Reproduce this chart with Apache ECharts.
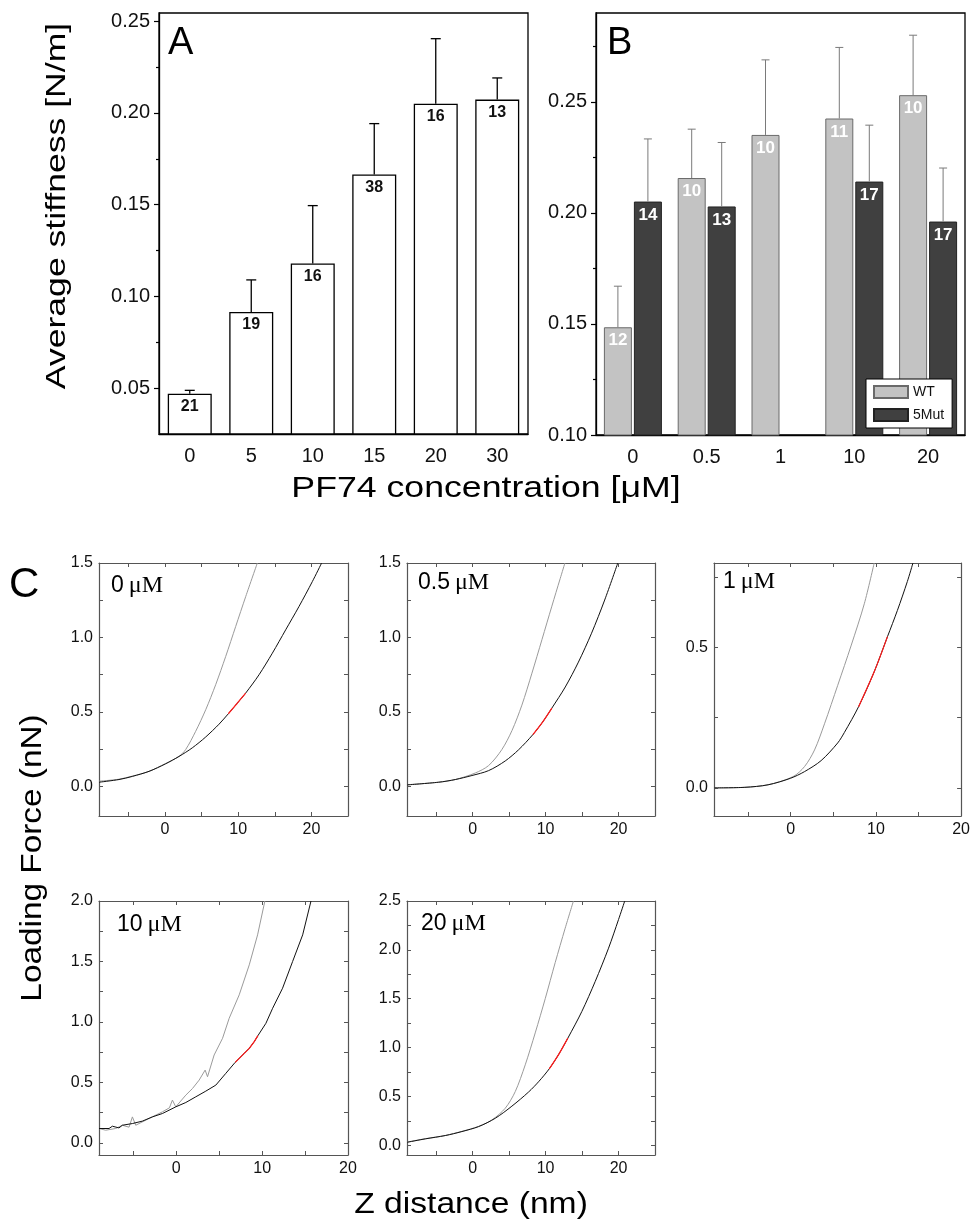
<!DOCTYPE html>
<html><head><meta charset="utf-8">
<script src="https://cdn.jsdelivr.net/npm/echarts@6/dist/echarts.min.js"></script>
<style>html,body{margin:0;padding:0;background:#fff}#c{width:973px;height:1227px}</style>
</head><body><div id="c"></div>
<script>
// ---------------- Panel A data ----------------
const catsA = ['0', '5', '10', '15', '20', '30'];
const meanA = [0.047, 0.0915, 0.118, 0.1665, 0.205, 0.2073];
const errA  = [0.0018, 0.0175, 0.0315, 0.0277, 0.0355, 0.0118];
const nA    = [21, 19, 16, 38, 16, 13];
const yLabelsA = [0.05, 0.10, 0.15, 0.20, 0.25];
const yMinorA  = [0.075, 0.125, 0.175, 0.225];

// ---------------- Panel B data ----------------
const catsB = ['0', '0.5', '1', '10', '20'];
const wtMean  = [0.1485, 0.2157, 0.2351, 0.2425, 0.253];
const wtErr   = [0.0185, 0.022, 0.0338, 0.032, 0.027];
const wtN     = [12, 10, 10, 11, 10];
const mutMean = [0.2051, 0.2029, null, 0.2141, 0.1961];
const mutErr  = [0.0282, 0.0288, null, 0.0254, 0.0241];
const mutN    = [14, 13, null, 17, 17];
const yLabelsB = [0.10, 0.15, 0.20, 0.25];
const yMinorB  = [0.125, 0.175, 0.225, 0.275];

// ---------------- Panel C data (Z distance nm, loading force nN) ----------------
const grey0 = [[-9,0.034],[-6.3,0.047],[-4.45,0.068],[-2.17,0.1],[0.1,0.152],[1.92,0.201],[2.83,0.246],[4.2,0.369],[5.57,0.514],[6.93,0.682],[8.3,0.872],[9.66,1.073],[11.03,1.274],[12.62,1.5]];
const black0 = [[-9,0.027],[-6.27,0.045],[-4.45,0.066],[-2.17,0.1],[0.1,0.151],[1.92,0.2],[3.74,0.258],[5.57,0.331],[7.39,0.417],[8.66,0.487],[9.85,0.556],[11.03,0.626],[12.85,0.749],[14.67,0.894],[16.49,1.051],[18.3,1.207],[20.13,1.375],[21.4,1.5]];
const fit0 = [8.66, 11.03];

const grey1 = [[-9,0.01],[-4.66,0.027],[-2.38,0.045],[0.36,0.089],[2.19,0.139],[4.0,0.246],[5.4,0.375],[6.75,0.545],[8.13,0.76],[9.5,0.985],[10.86,1.21],[12.0,1.395],[12.65,1.5]];
const black1 = [[-9,0.009],[-4.66,0.027],[-2.38,0.045],[-0.1,0.072],[2.19,0.105],[4.47,0.17],[6.3,0.245],[8.26,0.347],[9.56,0.429],[10.86,0.525],[12.7,0.667],[14.5,0.834],[16.3,1.028],[18.1,1.251],[19.9,1.5]];
const fit1 = [8.26, 10.86];

const grey2 = [[-9,0],[-5.38,0.002],[-2.65,0.011],[0.27,0.04],[1.63,0.076],[2.8,0.135],[3.97,0.228],[5.52,0.365],[7.08,0.505],[8.64,0.655],[9.8,0.8]];
const black2 = [[-9,0],[-5.38,0.002],[-2.65,0.011],[-0.04,0.034],[1.63,0.058],[3.57,0.097],[5.52,0.16],[6.3,0.197],[7.97,0.289],[9.8,0.413],[11.36,0.538],[12.52,0.631],[13.69,0.734],[14.35,0.8]];
const fit2 = [7.97, 11.36];

const grey3 = [[-9,0.119],[-8.22,0.105],[-7.06,0.119],[-6.28,0.146],[-5.5,0.13],[-5.11,0.215],[-4.72,0.146],[-3.17,0.202],[-1.61,0.257],[-0.8,0.29],[-0.45,0.354],[-0.06,0.298],[1.11,0.395],[1.89,0.45],[2.66,0.519],[3.36,0.602],[3.64,0.547],[4.41,0.727],[5.39,0.865],[6.16,1.03],[7.33,1.224],[8.5,1.472],[9.47,1.72],[10.32,2.0]];
const black3 = [[-9,0.119],[-7.83,0.119],[-7.44,0.138],[-6.67,0.124],[-6.28,0.146],[-5.11,0.16],[-3.95,0.18],[-2.78,0.215],[-1.61,0.243],[-0.06,0.298],[1.11,0.334],[2.27,0.381],[3.44,0.428],[4.61,0.478],[5.77,0.575],[6.86,0.666],[7.33,0.699],[7.91,0.74],[8.5,0.782],[9.08,0.837],[9.51,0.887],[10.44,0.989],[11.22,1.113],[12.38,1.279],[13.55,1.5],[14.72,1.72],[15.69,2.0]];
const fit3 = [6.86, 9.51];

const grey4 = [[-9,0.032],[-6.49,0.067],[-3.75,0.1],[-1.47,0.142],[0.82,0.193],[2.64,0.259],[4.47,0.379],[5.84,0.549],[7.21,0.823],[8.58,1.15],[9.95,1.5],[11.32,1.87],[12.68,2.22],[13.82,2.5]];
const black4 = [[-9,0.03],[-6.49,0.065],[-3.75,0.099],[-1.47,0.14],[0.82,0.191],[3.1,0.276],[5.38,0.4],[7.67,0.545],[9.1,0.655],[10.5,0.782],[11.8,0.93],[13.05,1.096],[14.97,1.369],[16.8,1.676],[18.63,2.017],[20.0,2.31],[20.85,2.5]];
const fit4 = [10.5, 13.05];

const concLabels = ['0', '0.5', '1', '10', '20'];
const xTicksC  = [-5, 0, 5, 10, 15, 20];
const xLabelsC = [0, 10, 20];

// ---------------- styling / layout ----------------
const FONT = '"Liberation Sans", Arial, sans-serif';
const SERIF = '"Liberation Serif", "Times New Roman", serif';
const gridA = {left: 159, top: 13, width: 369, height: 421};
const gridB = {left: 596, top: 13, width: 369, height: 422};
const BAR_W_A = 44, BAR_W_B = 28, GAP_B = 2;

const cPanels = [
  {grey: grey0, black: black0, fit: fit0, label: concLabels[0], grid: {left: 99, top: 563, width: 249, height: 253}, x: [-9, 25], y: [-0.2, 1.5], yl: [0, 0.5, 1.0, 1.5], yt: [0, 0.25, 0.5, 0.75, 1.0, 1.25, 1.5], ann: [111, 574]},
  {grey: grey1, black: black1, fit: fit1, label: concLabels[1], grid: {left: 407, top: 563, width: 248, height: 253}, x: [-9, 25], y: [-0.2, 1.5], yl: [0, 0.5, 1.0, 1.5], yt: [0, 0.25, 0.5, 0.75, 1.0, 1.25, 1.5], ann: [418, 571]},
  {grey: grey2, black: black2, fit: fit2, label: concLabels[2], grid: {left: 714, top: 563, width: 249, height: 253}, x: [-9, 20], y: [-0.1, 0.8], yl: [0, 0.5], yt: [0, 0.25, 0.5, 0.75], ann: [723, 570]},
  {grey: grey3, black: black3, fit: fit3, label: concLabels[3], grid: {left: 99, top: 901, width: 249, height: 254}, x: [-9, 20], y: [-0.1, 2.0], yl: [0, 0.5, 1.0, 1.5, 2.0], yt: [0, 0.25, 0.5, 0.75, 1.0, 1.25, 1.5, 1.75, 2.0], ann: [117, 913], noisy: true},
  {grey: grey4, black: black4, fit: fit4, label: concLabels[4], grid: {left: 407, top: 901, width: 248, height: 254}, x: [-9, 25], y: [-0.1, 2.5], yl: [0, 0.5, 1.0, 1.5, 2.0, 2.5], yt: [0, 0.25, 0.5, 0.75, 1.0, 1.25, 1.5, 1.75, 2.0, 2.25, 2.5], ann: [421, 912]}
];

const grids = [];
const xAxes = [], yAxes = [], series = [], titles = [];

grids.push(Object.assign({show: true, borderColor: '#000', borderWidth: 1.3}, gridA));
grids.push(Object.assign({show: true, borderColor: '#000', borderWidth: 1.3}, gridB));

function catAxes(gi, cats) {
  xAxes.push({gridIndex: gi, type: 'category', data: cats,
    axisLine: {lineStyle: {color: '#000', width: 1.3}},
    axisTick: {alignWithLabel: true, length: 5, lineStyle: {color: '#000', width: 1.2}},
    axisLabel: {fontSize: 20, color: '#111', margin: 12, fontFamily: FONT}});
  xAxes.push({gridIndex: gi, type: 'category', data: cats, position: 'bottom',
    axisLine: {show: false}, axisTick: {alignWithLabel: false, length: 5, lineStyle: {color: '#000', width: 1.2}},
    axisLabel: {show: false}});
}
function valAxes(gi, min, max, labels, minor) {
  yAxes.push({gridIndex: gi, type: 'value', min: min, max: max, position: 'left',
    axisLine: {show: true, lineStyle: {color: '#000', width: 1.3}},
    axisTick: {show: true, length: 5, customValues: labels, lineStyle: {color: '#000', width: 1.2}},
    axisLabel: {customValues: labels, formatter: v => v.toFixed(2), fontSize: 20, color: '#111', margin: 9, fontFamily: FONT},
    splitLine: {show: false}});
  yAxes.push({gridIndex: gi, type: 'value', min: min, max: max, position: 'left', offset: 0,
    axisLine: {show: false},
    axisTick: {show: true, length: 3, customValues: minor, lineStyle: {color: '#000', width: 1.2}},
    axisLabel: {show: false}, splitLine: {show: false}});
}
catAxes(0, catsA); valAxes(0, 0.025, 0.2545, yLabelsA, yMinorA);
catAxes(1, catsB); valAxes(1, 0.1, 0.29, yLabelsB, yMinorB);

// Error bar helper
function errSeries(xi, yi, means, errs, offsetPx, color, capW, lw) {
  const data = [];
  means.forEach((m, i) => { if (m != null) data.push([i, m, m + errs[i]]); });
  return {
    type: 'custom', xAxisIndex: xi, yAxisIndex: yi, z: 5, silent: true, data: data,
    renderItem: (params, api) => {
      const p0 = api.coord([api.value(0), api.value(1)]);
      const p1 = api.coord([api.value(0), api.value(2)]);
      const x = p0[0] + offsetPx;
      return {type: 'group', children: [
        {type: 'line', shape: {x1: x, y1: p0[1], x2: x, y2: p1[1]}, style: {stroke: color, lineWidth: lw}},
        {type: 'line', shape: {x1: x - capW / 2, y1: p1[1], x2: x + capW / 2, y2: p1[1]}, style: {stroke: color, lineWidth: lw}}
      ]};
    }
  };
}

// Panel A series
series.push({type: 'bar', xAxisIndex: 0, yAxisIndex: 0, data: meanA, barWidth: BAR_W_A,
  itemStyle: {color: '#fff', borderColor: '#000', borderWidth: 1.3},
  label: {show: true, position: 'insideTop', distance: 5, formatter: p => nA[p.dataIndex],
    fontSize: 16, fontWeight: 'bold', color: '#111', fontFamily: FONT}});
series.push(errSeries(0, 0, meanA, errA, 0, '#000', 10, 1.3));

// Panel B series
const gapPct = (GAP_B / BAR_W_B * 100) + '%';
series.push({type: 'bar', name: 'WT', xAxisIndex: 2, yAxisIndex: 2, data: wtMean, barWidth: BAR_W_B, barGap: gapPct,
  itemStyle: {color: '#c3c3c3', borderColor: '#6a6a6a', borderWidth: 1},
  label: {show: true, position: 'insideTop', distance: 5, formatter: p => wtN[p.dataIndex],
    fontSize: 17, fontWeight: 'bold', color: '#fff', fontFamily: FONT}});
series.push({type: 'bar', name: '5Mut', xAxisIndex: 2, yAxisIndex: 2, data: mutMean.map(v => v == null ? '-' : v), barWidth: BAR_W_B, barGap: gapPct,
  itemStyle: {color: '#404040', borderColor: '#222', borderWidth: 1},
  label: {show: true, position: 'insideTop', distance: 5, formatter: p => mutN[p.dataIndex],
    fontSize: 17, fontWeight: 'bold', color: '#fff', fontFamily: FONT}});
series.push(errSeries(2, 2, wtMean, wtErr, -(BAR_W_B + GAP_B) / 2, '#7a7a7a', 8, 1));
series.push(errSeries(2, 2, mutMean, mutErr, (BAR_W_B + GAP_B) / 2, '#7a7a7a', 8, 1));

// Panel C
const CC = '#555';
cPanels.forEach((p) => {
  const gi = grids.length;
  grids.push(Object.assign({show: false}, p.grid));
  const xb = xAxes.length;
  const tickStyle = {color: CC, width: 1};
  xAxes.push({gridIndex: gi, type: 'value', min: p.x[0], max: p.x[1], position: 'bottom',
    axisLine: {show: true, onZero: false, lineStyle: {color: CC, width: 1.2}},
    axisTick: {show: true, inside: true, length: 4, customValues: xTicksC, lineStyle: tickStyle},
    axisLabel: {customValues: xLabelsC, fontSize: 16, color: '#111', margin: 6, fontFamily: FONT},
    splitLine: {show: false}});
  xAxes.push({gridIndex: gi, type: 'value', min: p.x[0], max: p.x[1], position: 'top',
    axisLine: {show: true, onZero: false, lineStyle: {color: CC, width: 1.2}},
    axisTick: {show: true, inside: true, length: 4, customValues: xTicksC, lineStyle: tickStyle},
    axisLabel: {show: false}, splitLine: {show: false}});
  const yb = yAxes.length;
  yAxes.push({gridIndex: gi, type: 'value', min: p.y[0], max: p.y[1], position: 'left',
    axisLine: {show: true, onZero: false, lineStyle: {color: CC, width: 1.2}},
    axisTick: {show: true, inside: true, length: 4, customValues: p.yt, lineStyle: tickStyle},
    axisLabel: {customValues: p.yl, formatter: v => v.toFixed(1), fontSize: 16, color: '#111', margin: 6, fontFamily: FONT},
    splitLine: {show: false}});
  yAxes.push({gridIndex: gi, type: 'value', min: p.y[0], max: p.y[1], position: 'right',
    axisLine: {show: true, onZero: false, lineStyle: {color: CC, width: 1.2}},
    axisTick: {show: true, inside: true, length: 4, customValues: p.yt, lineStyle: tickStyle},
    axisLabel: {show: false}, splitLine: {show: false}});
  const common = {type: 'line', xAxisIndex: xb, yAxisIndex: yb, showSymbol: false, silent: true,
    smooth: p.noisy ? false : 0.3, clip: true};
  series.push(Object.assign({}, common, {data: p.grey, lineStyle: {color: '#9a9a9a', width: 1}, z: 2}));
  series.push(Object.assign({}, common, {data: p.black, lineStyle: {color: '#111', width: 1}, z: 3}));
  series.push(Object.assign({}, common, {data: p.black.filter(d => d[0] >= p.fit[0] && d[0] <= p.fit[1]),
    lineStyle: {color: '#ff1a1a', width: 1.2}, z: 4}));
  titles.push({text: '{n|' + p.label + '} {u|\u03bcM}', left: p.ann[0], top: p.ann[1], padding: 0,
    textStyle: {fontWeight: 'normal', rich: {
      n: {fontSize: 23, fontWeight: 'normal', fontFamily: FONT, color: '#000'},
      u: {fontSize: 24, fontWeight: 'normal', fontFamily: SERIF, color: '#000'}}}});
});

const option = {
  animation: false,
  backgroundColor: '#fff',
  title: titles,
  grid: grids,
  xAxis: xAxes,
  yAxis: yAxes,
  legend: {data: ['WT', '5Mut'], icon: 'rect', orient: 'vertical', left: 866, top: 379, padding: [6, 8, 6, 7],
    itemWidth: 34, itemHeight: 12, itemGap: 9, borderColor: '#000', borderWidth: 1, backgroundColor: '#fff',
    textStyle: {fontSize: 14, color: '#111', fontFamily: FONT}, selectedMode: false},
  series: series,
  graphic: [
    {type: 'text', left: 168, top: 25, style: {text: 'A', fontSize: 38, fontFamily: FONT, fill: '#000'}},
    {type: 'text', left: 607, top: 25, style: {text: 'B', fontSize: 38, fontFamily: FONT, fill: '#000'}},
    {type: 'text', left: 9, top: 564, style: {text: 'C', fontSize: 42, fontFamily: FONT, fill: '#000'}},
    {type: 'text', x: 57, y: 206, rotation: Math.PI / 2, scaleX: 1.27, style: {text: 'Average stiffness [N/m]', fontSize: 28, fontFamily: FONT, fill: '#000', textAlign: 'center', textVerticalAlign: 'middle'}},
    {type: 'text', x: 486, y: 489, scaleX: 1.23, style: {text: 'PF74 concentration [\u03bcM]', fontSize: 29, fontFamily: FONT, fill: '#000', textAlign: 'center', textVerticalAlign: 'middle'}},
    {type: 'text', x: 33, y: 858, rotation: Math.PI / 2, scaleX: 1.15, style: {text: 'Loading Force (nN)', fontSize: 29, fontFamily: FONT, fill: '#000', textAlign: 'center', textVerticalAlign: 'middle'}},
    {type: 'text', x: 471, y: 1205, scaleX: 1.16, style: {text: 'Z distance (nm)', fontSize: 29, fontFamily: FONT, fill: '#000', textAlign: 'center', textVerticalAlign: 'middle'}}
  ]
};
const chart = echarts.init(document.getElementById('c'), null, {renderer: 'canvas'});
chart.setOption(option);
</script></body></html>
